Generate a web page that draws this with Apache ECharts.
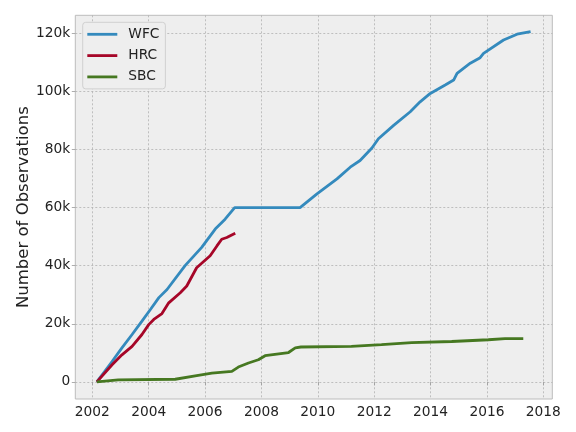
<!DOCTYPE html>
<html>
<head>
<meta charset="utf-8">
<script src="https://cdn.jsdelivr.net/npm/echarts@6/dist/echarts.min.js"></script>
<style>
  html, body { margin: 0; padding: 0; background: #ffffff; }
  #chart { width: 576px; height: 432px; }
</style>
</head>
<body>
<div id="chart"></div>
<script>
// 数据：按年份（小数）累计的观测数
const wfcYears = [2002.16, 2002.70, 2003.05, 2003.41, 2003.76, 2004.06, 2004.36, 2004.65, 2005.29, 2005.88,
  2006.36, 2006.71, 2007.05, 2009.37, 2009.97, 2010.68, 2011.15, 2011.5, 2011.92, 2012.15, 2012.69,
  2013.28, 2013.63, 2013.99, 2014.52, 2014.82, 2014.94, 2015.41, 2015.76, 2015.88, 2016.59, 2017.07, 2017.55];
const wfcValues = [0, 7000, 11700, 16300, 20900, 24900, 29000, 31800, 40000, 46300,
  52600, 56000, 60000, 60000, 64700, 69900, 73900, 76200, 80500, 83700, 88300,
  93000, 96400, 99300, 102200, 103900, 106200, 109700, 111600, 113100, 117700, 119700, 120600];

const hrcYears = [2002.16, 2002.70, 2003.05, 2003.41, 2003.76, 2004.0, 2004.18, 2004.47, 2004.71, 2005.12,
  2005.35, 2005.7, 2006.18, 2006.42, 2006.59, 2006.77, 2007.07];
const hrcValues = [0, 5900, 9300, 12200, 16300, 19700, 21500, 23500, 27200, 30700,
  33000, 39300, 43400, 46800, 49100, 49700, 51200];

const sbcYears = [2002.16, 2002.92, 2004.94, 2005.65, 2006.24, 2006.95, 2007.18, 2007.54, 2007.89, 2008.13,
  2008.96, 2009.2, 2009.4, 2011.19, 2012.26, 2013.33, 2014.75, 2016.05, 2016.64, 2017.29];
const sbcValues = [0, 700, 900, 2100, 3000, 3600, 5100, 6500, 7600, 9000,
  10100, 11700, 12000, 12200, 12800, 13500, 13900, 14500, 14900, 14900];

const xTicks = [2002, 2004, 2006, 2008, 2010, 2012, 2014, 2016, 2018];
const yTicks = [0, 20000, 40000, 60000, 80000, 100000, 120000];
const yTickLabels = ['0', '20k', '40k', '60k', '80k', '100k', '120k'];

const FONT = 'DejaVu Sans';

function pairs(xs, ys) {
  return xs.map((x, i) => [x, ys[i]]);
}

function makeSeries(name, xs, ys, color) {
  return {
    name: name,
    type: 'line',
    data: pairs(xs, ys),
    showSymbol: false,
    symbol: 'none',
    lineStyle: { color: color, width: 2.8 },
    itemStyle: { color: color },
    animation: false
  };
}

const chart = echarts.init(document.getElementById('chart'), null, { renderer: 'canvas' });

chart.setOption({
  animation: false,
  backgroundColor: '#ffffff',
  grid: {
    left: 75.3,
    right: 23.7,
    top: 15.3,
    bottom: 33,
    show: true,
    backgroundColor: '#eeeeee',
    borderColor: '#bcbcbc',
    borderWidth: 1,
    outerBoundsMode: 'none'
  },
  legend: {
    orient: 'vertical',
    left: 82.7,
    top: 22.3,
    padding: [4, 6, 4, 4.6],
    icon: 'rect',
    itemWidth: 30,
    itemHeight: 2.8,
    itemGap: 5.3,
    backgroundColor: '#eeeeee',
    borderColor: '#d0d0d0',
    borderWidth: 1,
    borderRadius: 3,
    textStyle: { fontFamily: FONT, fontSize: 13.75, lineHeight: 16, color: '#222222', padding: [0, 0, 0, 6] },
    data: ['WFC', 'HRC', 'SBC']
  },
  xAxis: {
    type: 'value',
    min: 2001.395,
    max: 2018.32,
    axisLine: { show: false },
    axisTick: { show: true, length: 3.5, customValues: xTicks, lineStyle: { color: '#999999', width: 0.8 } },
    axisLabel: {
      customValues: xTicks,
      fontFamily: FONT, fontSize: 13.75, color: '#222222', margin: 6,
      formatter: v => String(v)
    },
    splitLine: { show: true, lineStyle: { color: '#b2b2b2', width: 0.8, type: [2, 2] } }
  },
  yAxis: {
    type: 'value',
    min: -5900,
    max: 126200,
    name: 'Number of Observations',
    nameLocation: 'middle',
    nameRotate: 90,
    nameGap: 43,
    nameMoveOverlap: false,
    nameTextStyle: { fontFamily: FONT, fontSize: 16.5, color: '#222222' },
    axisLine: { show: false },
    axisTick: { show: true, length: 3.5, customValues: yTicks, lineStyle: { color: '#999999', width: 0.8 } },
    axisLabel: {
      customValues: yTicks,
      fontFamily: FONT, fontSize: 13.75, color: '#222222', margin: 5,
      formatter: v => yTickLabels[yTicks.indexOf(v)] || ''
    },
    splitLine: { show: true, lineStyle: { color: '#b2b2b2', width: 0.8, type: [2, 2] } }
  },
  series: [
    makeSeries('WFC', wfcYears, wfcValues, '#348ABD'),
    makeSeries('HRC', hrcYears, hrcValues, '#A60628'),
    makeSeries('SBC', sbcYears, sbcValues, '#467821')
  ]
});
</script>
</body>
</html>
